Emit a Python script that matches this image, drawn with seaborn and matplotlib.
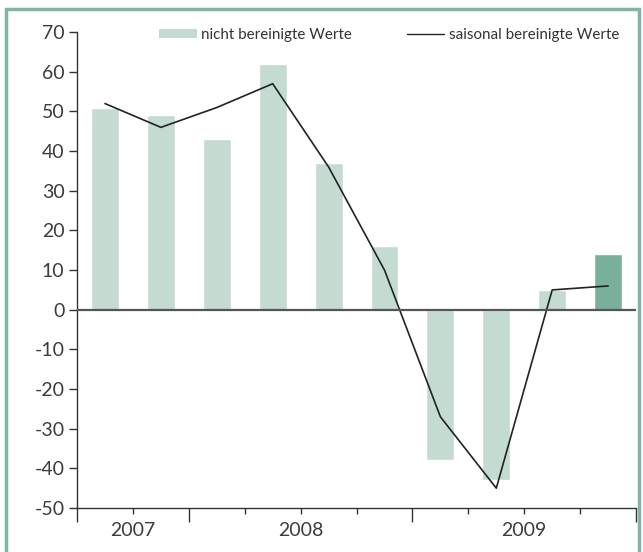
import matplotlib
matplotlib.use('Agg')
import matplotlib.pyplot as plt
from matplotlib.patches import Patch, Rectangle
from matplotlib.lines import Line2D
import matplotlib.transforms as mtransforms
import seaborn as sns
import pandas as pd

# quarterly values, 2007 Q3 - 2009 Q4
quarters = ['2007Q3', '2007Q4', '2008Q1', '2008Q2', '2008Q3', '2008Q4',
            '2009Q1', '2009Q2', '2009Q3', '2009Q4']
raw_values = [51, 49, 43, 62, 37, 16, -38, -43, 5, 14]
sa_values = [52, 46, 51, 57, 36, 10, -27, -45, 5, 6]
years = ['2007', '2008', '2009']
year_centers = [0.5, 3.5, 7.5]
yticks = list(range(-50, 71, 10))

light = '#c3dbd1'
dark = '#79b099'
bar_colors = [light] * 9 + [dark]

sns.set_style('white')
plt.rcParams['font.family'] = ['Lato', 'DejaVu Sans']
plt.rcParams['axes.unicode_minus'] = False

df = pd.DataFrame({'quarter': quarters, 'raw': raw_values, 'sa': sa_values})

fig = plt.figure(figsize=(6.43, 5.52), dpi=100)
ax = fig.add_axes([0.1198, 0.0797, 0.8694, 0.862])

sns.barplot(data=df, x='quarter', y='raw', hue='quarter', palette=bar_colors,
            legend=False, width=0.5, saturation=1, ax=ax)
sns.lineplot(data=df, x='quarter', y='sa', sort=False, color='#222222',
             linewidth=1.2, ax=ax)

ax.axhline(0, color='#555555', linewidth=1.6, zorder=3)
ax.set_xlim(-0.5, 9.5)
ax.set_ylim(-50, 70)
ax.set_yticks(yticks)
ax.set_yticklabels([str(v) for v in yticks], fontsize=14, color='#3c3c3c')

# long ticks at year boundaries, short ticks at quarter boundaries
ax.set_xticks([-0.5, 1.5, 5.5, 9.5])
ax.set_xticklabels([])
ax.set_xticks([0.5, 2.5, 3.5, 4.5, 6.5, 7.5, 8.5], minor=True)
ax.tick_params(axis='x', which='major', length=10, width=1, color='#333333', direction='out', bottom=True)
ax.tick_params(axis='x', which='minor', length=4.5, width=1, color='#333333', direction='out', bottom=True)
ax.tick_params(axis='y', length=6, width=1, color='#333333', pad=3, left=True)
trans = mtransforms.blended_transform_factory(ax.transData, ax.transAxes)
for yr, xc in zip(years, year_centers):
    ax.text(xc, -0.048, yr, transform=trans, ha='center', va='center',
            fontsize=14, color='#3c3c3c')

ax.set_xlabel('')
ax.set_ylabel('')
sns.despine(ax=ax)
for side in ['left', 'bottom']:
    ax.spines[side].set_color('#333333')
    ax.spines[side].set_linewidth(1)

handles = [Patch(facecolor=light, edgecolor='none'),
           Line2D([0], [0], color='#222222', linewidth=1)]
fig.legend(handles, ['nicht bereinigte Werte', 'saisonal bereinigte Werte'],
           loc='center left', bbox_to_anchor=(0.247, 0.937), ncol=2,
           frameon=False, fontsize=10.9, handlelength=2.5, handleheight=0.5,
           handletextpad=0.3, columnspacing=3.6, borderpad=0, borderaxespad=0,
           labelcolor='#333333')

# green frame around the chart
fig.patches.append(Rectangle((0.0095, -0.05), 0.985, 1.034, transform=fig.transFigure,
                             fill=False, edgecolor='#7fb5a1', linewidth=2.5))

fig.savefig('out.png', dpi=100)
